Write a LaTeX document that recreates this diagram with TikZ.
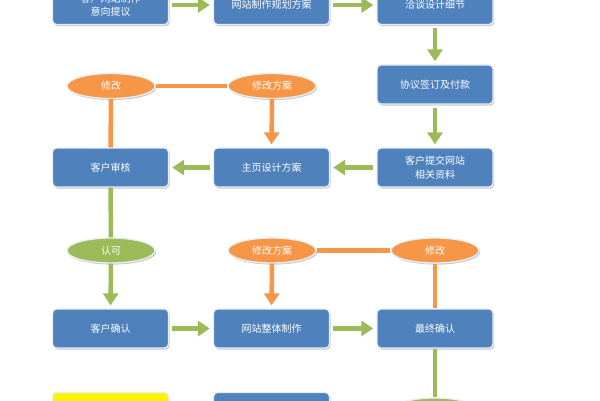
\documentclass[tikz,border=0pt]{standalone}
\usepackage{fontspec}
\newfontfamily\cjk{Noto Sans CJK SC}
\usetikzlibrary{shapes.geometric,arrows.meta,shadows}
\definecolor{boxblue}{HTML}{4F81BD}
\definecolor{agreen}{HTML}{9BBB59}
\definecolor{aorange}{HTML}{F79646}
\definecolor{rimc}{HTML}{E8EEF6}
\tikzset{
  box/.style={rectangle, rounded corners=4pt, fill=boxblue, draw=rimc, line width=1.3pt,
    minimum width=116pt, minimum height=39pt, inner sep=0pt, align=center,
    text=white, font=\cjk\fontsize{10}{13.5}\selectfont,
    drop shadow={shadow xshift=1.2pt, shadow yshift=-1.6pt, fill=black!35, opacity=0.6}},
  oval/.style={ellipse, draw=rimc, line width=1.3pt, minimum width=88pt, minimum height=25pt,
    inner sep=0pt, text=white, font=\cjk\fontsize{10}{12}\selectfont,
    drop shadow={shadow xshift=1.2pt, shadow yshift=-1.6pt, fill=black!35, opacity=0.6}},
  garrow/.style={draw=agreen, line width=4.5pt, -{Triangle[width=15pt,length=12pt]}, shorten >=3pt, shorten <=3pt},
  gline/.style={draw=agreen, line width=4.5pt},
  oarrow/.style={draw=aorange, line width=4.5pt, -{Triangle[width=15pt,length=12pt]}, shorten >=3pt},
  oline/.style={draw=aorange, line width=4.5pt},
}
\begin{document}
\begin{tikzpicture}[x=1pt,y=-1pt]
\useasboundingbox (0,0) rectangle (600,400);
% row 0
\node[box] (a1) at (110.5,5) {客户网站制作\\意向提议};
\node[box] (a2) at (271.5,5) {网站制作规划方案};
\node[box] (a3) at (435,5) {洽谈设计细节};
% row 1
\node[box] (b3) at (435,84.5) {协议签订及付款};
% row 2
\node[box] (c1) at (110.5,167.5) {客户审核};
\node[box] (c2) at (271.5,167.5) {主页设计方案};
\node[box] (c3) at (435,167.5) {客户提交网站\\相关资料};
% ovals row 2
\node[oval, fill=aorange] (o1) at (111,86) {修改};
\node[oval, fill=aorange] (o2) at (272,86) {修改方案};
% row 3 ovals
\node[oval, fill=agreen] (g1) at (111,250.5) {认可};
\node[oval, fill=aorange] (o3) at (272,250.5) {修改方案};
\node[oval, fill=aorange] (o4) at (435,250.5) {修改};
% row 3
\node[box] (d1) at (110.5,328.5) {客户确认};
\node[box] (d2) at (271.5,328.5) {网站整体制作};
\node[box] (d3) at (435,328.5) {最终确认};
% row 4 (cut off)
\node[box, fill=yellow] (e1) at (110.5,412) {};
\node[box] (e2) at (271.5,412) {};
\node[oval, fill=agreen, minimum height=26pt] (g2) at (435,411) {};
% connectors
\draw[garrow] (a1) -- (a2);
\draw[garrow] (a2) -- (a3);
\draw[garrow] (a3) -- (b3);
\draw[garrow] (b3) -- (c3);
\draw[garrow] (c3) -- (c2);
\draw[garrow] (c2) -- (c1);
\draw[gline] (c1.south) -- (g1.north);
\draw[garrow, shorten <=0pt] (g1.south) -- (d1.north);
\draw[garrow] (d1) -- (d2);
\draw[garrow] (d2) -- (d3);
\draw[gline] (d3.south) -- (g2.north);
\draw[oline] (c1.north) -- (o1.south);
\draw[oline] (o1) -- (o2);
\draw[oarrow] (o2.south) -- (c2.north);
\draw[oline] (d3.north) -- (o4.south);
\draw[oline] (o4) -- (o3);
\draw[oarrow] (o3.south) -- (d2.north);
\end{tikzpicture}
\end{document}
